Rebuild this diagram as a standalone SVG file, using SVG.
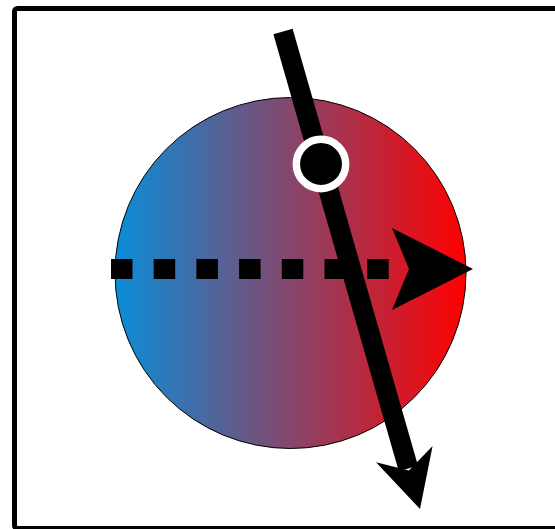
<svg xmlns="http://www.w3.org/2000/svg" width="555" height="529" viewBox="0 0 555 529">
  <defs>
    <linearGradient id="g" x1="0" y1="0" x2="1" y2="0">
      <stop offset="0" stop-color="#0a8dd8"/>
      <stop offset="1" stop-color="#ff0000"/>
    </linearGradient>
    <style>
      .blk{fill:#000}
    </style>
  </defs>
  <rect x="0" y="0" width="555" height="529" fill="#fff"/>
  <rect id="frame" x="14.5" y="8.5" width="560" height="520" rx="3" fill="none" stroke="#000" stroke-width="5" stroke-linejoin="round"/>
  <g id="sphere">
    <circle cx="290.5" cy="273" r="175.5" fill="url(#g)" stroke="#000" stroke-width="1"/>
  </g>
  <g id="connectors">
    <line x1="111" y1="269" x2="400" y2="269" stroke="#000" stroke-width="20" stroke-dasharray="21.5 21.2"/>
    <polygon class="blk" points="473,269 392,228 409,269 392,310"/>
    <line x1="283" y1="31.5" x2="408.4" y2="468.6" stroke="#000" stroke-width="20"/>
    <polygon class="blk" points="420,509 432.6,446.1 408.96,470.56 376,462.3"/>
  </g>
  <g id="point">
    <circle cx="321" cy="164" r="24.7" fill="#000" stroke="#fff" stroke-width="7.5"/>
  </g>
</svg>
